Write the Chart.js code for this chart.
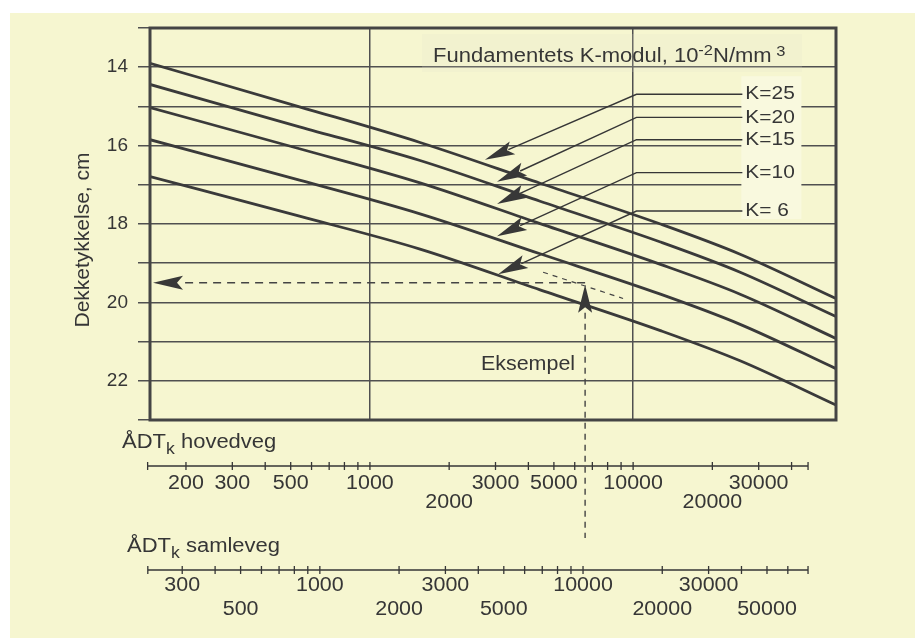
<!DOCTYPE html>
<html>
<head>
<meta charset="utf-8">
<script src="https://cdn.jsdelivr.net/npm/chart.js@4.4.1/dist/chart.umd.min.js"></script>
<style>
  html, body { margin: 0; padding: 0; background: #fff; }
  #sheet { position: absolute; left: 10px; top: 13px; width: 905px; height: 625px; background: rgb(246, 246, 208); }
  #wrap { position: absolute; left: 0; top: 0; width: 919px; height: 638px; }
</style>
</head>
<body>
<div id="sheet"></div>
<div id="wrap"><canvas id="myChart" width="919" height="638"></canvas></div>
<script>
// ÅDT (hovedveg) along the curves, and pavement thickness (cm) for each K
const adt = [146, 540, 1550, 4430, 12700, 25500, 59000];
const k25 = [13.90, 15.01, 15.92, 16.96, 18.00, 18.77, 19.90];
const k20 = [14.44, 15.52, 16.38, 17.42, 18.46, 19.23, 20.36];
const k15 = [15.03, 16.08, 16.95, 17.99, 19.03, 19.79, 20.92];
const k10 = [15.85, 16.88, 17.74, 18.76, 19.79, 20.56, 21.69];
const k6 = [16.79, 17.80, 18.64, 19.68, 20.72, 21.49, 22.62];

const kNames = ['K=25', 'K=20', 'K=15', 'K=10', 'K= 6'];
const kLabelY = [14.69, 15.28, 15.85, 16.69, 17.67];
const kArrowX = [2735, 3040, 3040, 3040, 3070];
const kArrowY = [16.36, 16.92, 17.49, 18.31, 19.28];
const kBendX = 10300;
const kLabelX = 26700;

// the worked example
const exampleAdt = 6570;
const exampleCm = 19.5;
const exampleTextCm = 21.6;
const k8Adt = [4550, 9160];
const k8Cm = [19.23, 19.90];

// lower ÅDT axes
const hovTicks = [200, 300, 500, 1000, 2000, 3000, 5000, 10000, 20000, 30000];
const hovRow = [0, 0, 0, 0, 1, 0, 0, 0, 1, 0];
const hovRange = [143, 46200];
const samTicks = [300, 500, 1000, 2000, 3000, 5000, 10000, 20000, 30000, 50000];
const samRow = [0, 1, 0, 1, 0, 1, 0, 1, 0, 1];
const samRange = [222, 71600];
const samFactor = 1.55;

const ink = '#363636';
const grid = '#505050';
const fontFam = '"Liberation Sans", Arial, sans-serif';
const stretch = 1.1; // the scanned lettering is a little wide
Chart.defaults.font.family = fontFam;
Chart.defaults.color = ink;

function pts(ys) {
    return adt.map((x, i) => ({ x: x, y: ys[i] }));
}

function arrowHead(ctx, tx, ty, fx, fy, len, half) {
    const d = Math.hypot(fx - tx, fy - ty);
    const ux = (fx - tx) / d, uy = (fy - ty) / d;
    const bx = tx + ux * len, by = ty + uy * len;
    ctx.beginPath();
    ctx.moveTo(tx, ty);
    ctx.lineTo(bx - uy * half, by + ux * half);
    ctx.lineTo(tx + ux * len * 0.8, ty + uy * len * 0.8);
    ctx.lineTo(bx + uy * half, by - ux * half);
    ctx.closePath();
    ctx.fill();
    return { x: tx + ux * len * 0.85, y: ty + uy * len * 0.85 };
}

// wide text, anchored by align at (x, y)
function wideText(ctx, text, x, y, size, align, baseline) {
    ctx.save();
    ctx.font = size + 'px ' + fontFam;
    ctx.textAlign = align;
    ctx.textBaseline = baseline || 'middle';
    ctx.translate(x, y);
    ctx.scale(stretch, 1);
    ctx.fillText(text, 0, 0);
    ctx.restore();
}

// draws text runs: [text, size, dy]
function runs(ctx, x, y, parts) {
    parts.forEach(p => {
        wideText(ctx, p[0], x, y + p[2], p[1], 'left', 'alphabetic');
        ctx.font = p[1] + 'px ' + fontFam;
        x += ctx.measureText(p[0]).width * stretch;
    });
}

function logTicks(lo, hi) {
    const out = [];
    for (let e = 2; e <= 5; e++) {
        for (let m = 1; m <= 9; m++) {
            const v = m * Math.pow(10, e);
            if (v > lo * 1.05 && v < hi * 0.97) out.push(v);
        }
    }
    return out;
}

function lowerAxis(ctx, scale, y, range, ticks, rows, rowDy, title, titleX) {
    const x0 = scale.getPixelForValue(range[0]);
    const x1 = scale.getPixelForValue(range[1]);
    ctx.strokeStyle = ink;
    ctx.lineWidth = 1.3;
    ctx.beginPath();
    ctx.moveTo(x0, y);
    ctx.lineTo(x1, y);
    [range[0], range[1]].concat(logTicks(range[0], range[1])).forEach(v => {
        const px = scale.getPixelForValue(v);
        ctx.moveTo(px, y - 4);
        ctx.lineTo(px, y + 4);
    });
    ctx.stroke();
    ticks.forEach((v, i) => {
        wideText(ctx, String(v), scale.getPixelForValue(v), y + rowDy[rows[i]], 19.5, 'center');
    });
    runs(ctx, titleX, y - 18, [['ÅDT', 20, 0], ['k', 16, 6], [' ' + title, 20, 0]]);
}

const extras = {
    id: 'extras',
    beforeDatasetsDraw(chart) {
        const ctx = chart.ctx;
        const x = chart.scales.x, y = chart.scales.y;
        ctx.save();
        // pale box behind the K labels
        ctx.fillStyle = 'rgb(249, 249, 222)';
        const bx = x.getPixelForValue(kLabelX) - 4;
        ctx.fillRect(bx, y.getPixelForValue(kLabelY[0]) - 18, 60, y.getPixelForValue(kLabelY[4]) - y.getPixelForValue(kLabelY[0]) + 26);
        ctx.fillStyle = 'rgba(225, 225, 205, 0.18)';
        ctx.fillRect(chart.chartArea.left + 272, chart.chartArea.top + 6, 380, 38);
        ctx.restore();
    },
    afterDatasetsDraw(chart) {
        const ctx = chart.ctx;
        const a = chart.chartArea;
        const x = chart.scales.x, y = chart.scales.y, xs = chart.scales.xs;
        ctx.save();

        // frame
        ctx.strokeStyle = '#444';
        ctx.lineWidth = 3;
        ctx.strokeRect(a.left, a.top, a.right - a.left, a.bottom - a.top);

        // header
        ctx.fillStyle = ink;
        runs(ctx, a.left + 283, a.top + 34, [['Fundamentets K-modul, 10', 20, 0], ['-2', 15, -7], ['N/mm', 20, 0], [' 3', 15, -6]]);

        // K labels with leaders and arrows
        const lx = x.getPixelForValue(kLabelX);
        const bendX = x.getPixelForValue(kBendX);
        kNames.forEach((name, i) => {
            const ly = y.getPixelForValue(kLabelY[i]);
            const tx = x.getPixelForValue(kArrowX[i]);
            const ty = y.getPixelForValue(kArrowY[i]);
            ctx.fillStyle = '#383838';
            const base = arrowHead(ctx, tx, ty, bendX, ly, 30, 7);
            ctx.strokeStyle = ink;
            ctx.lineWidth = 1.4;
            ctx.beginPath();
            ctx.moveTo(lx - 3, ly);
            ctx.lineTo(bendX, ly);
            ctx.lineTo(base.x, base.y);
            ctx.stroke();
            ctx.fillStyle = ink;
            wideText(ctx, name, lx, ly, 19, 'left');
        });

        // example: dashed reading lines
        const ex = x.getPixelForValue(exampleAdt);
        const ey = y.getPixelForValue(exampleCm);
        const hovY = a.bottom + 46;
        const samY = a.bottom + 150;
        ctx.fillStyle = '#383838';
        arrowHead(ctx, a.left + 3, ey, ex, ey, 30, 7);
        arrowHead(ctx, ex, ey + 2, ex, ey + 100, 28, 7);
        ctx.strokeStyle = '#444';
        ctx.lineWidth = 1.5;
        ctx.setLineDash([8, 6]);
        ctx.beginPath();
        ctx.moveTo(ex, ey);
        ctx.lineTo(a.left + 33, ey);
        ctx.stroke();
        ctx.lineWidth = 1.4;
        ctx.setLineDash([6, 5]);
        ctx.beginPath();
        ctx.moveTo(ex, ey + 30);
        ctx.lineTo(ex, hovY + 72);
        ctx.stroke();
        ctx.lineWidth = 1.2;
        ctx.setLineDash([5, 5]);
        ctx.beginPath();
        ctx.moveTo(x.getPixelForValue(k8Adt[0]), y.getPixelForValue(k8Cm[0]));
        ctx.lineTo(x.getPixelForValue(k8Adt[1]), y.getPixelForValue(k8Cm[1]));
        ctx.stroke();
        ctx.setLineDash([]);

        ctx.fillStyle = ink;
        wideText(ctx, 'Eksempel', ex - 10, y.getPixelForValue(exampleTextCm), 19.5, 'right');

        // y title
        ctx.save();
        ctx.translate(a.left - 67, (a.top + a.bottom) / 2 + 16);
        ctx.rotate(-Math.PI / 2);
        ctx.font = '21px ' + fontFam;
        ctx.textAlign = 'center';
        ctx.textBaseline = 'middle';
        ctx.fillText('Dekketykkelse, cm', 0, 0);
        ctx.restore();

        // lower axes
        ctx.fillStyle = ink;
        lowerAxis(ctx, x, hovY, hovRange, hovTicks, hovRow, [18, 37], 'hovedveg', a.left - 28);
        lowerAxis(ctx, xs, samY, samRange, samTicks, samRow, [16, 40], 'samleveg', a.left - 23);
        ctx.restore();
    }
};

const lineStyle = { borderColor: '#3a3a3a', borderWidth: 2.8, pointRadius: 0, cubicInterpolationMode: 'monotone', fill: false };

const ctx = document.getElementById('myChart').getContext('2d');
const myChart = new Chart(ctx, {
    type: 'line',
    data: {
        datasets: [
            Object.assign({ label: 'K=25', data: pts(k25) }, lineStyle),
            Object.assign({ label: 'K=20', data: pts(k20) }, lineStyle),
            Object.assign({ label: 'K=15', data: pts(k15) }, lineStyle),
            Object.assign({ label: 'K=10', data: pts(k10) }, lineStyle),
            Object.assign({ label: 'K=6', data: pts(k6) }, lineStyle)
        ]
    },
    options: {
        responsive: false,
        animation: false,
        layout: { padding: { top: 28, right: 83, bottom: 218, left: 0 } },
        plugins: { legend: { display: false }, tooltip: { enabled: false } },
        scales: {
            x: {
                type: 'logarithmic',
                min: adt[0],
                max: adt[adt.length - 1],
                afterBuildTicks: s => { s.ticks = [{ value: 1000 }, { value: 10000 }]; },
                afterFit: s => { s.height = 0; },
                ticks: { display: false },
                border: { display: false },
                grid: { color: grid, lineWidth: 1.5, drawTicks: false }
            },
            xs: {
                axis: 'x',
                type: 'logarithmic',
                display: false,
                min: adt[0] * samFactor,
                max: adt[adt.length - 1] * samFactor
            },
            y: {
                reverse: true,
                min: 13,
                max: 23,
                afterFit: s => { s.width = 150; },
                border: { display: false },
                grid: { color: grid, lineWidth: 1.5, tickLength: 12 },
                ticks: {
                    stepSize: 1,
                    padding: 10,
                    color: ink,
                    font: { size: 19 },
                    callback: v => (v % 2 === 0 ? String(v) : '')
                }
            }
        }
    },
    plugins: [extras]
});
</script>
</body>
</html>
